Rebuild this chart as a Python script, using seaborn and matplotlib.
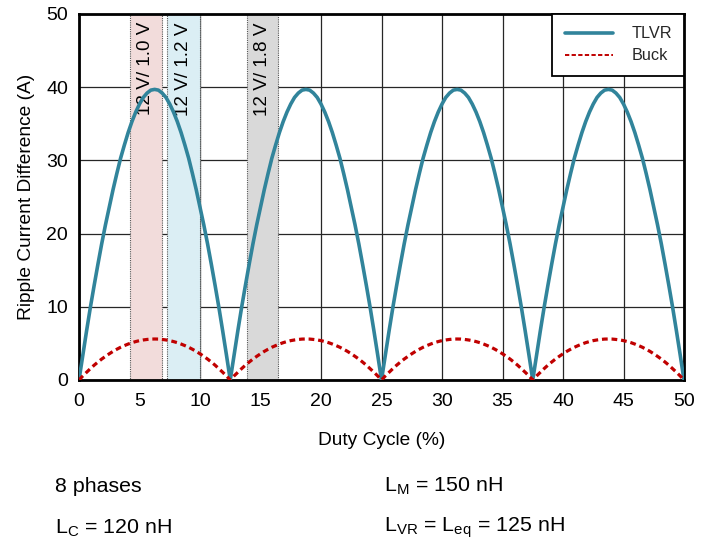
import numpy as np
import pandas as pd
import seaborn as sns
import matplotlib
matplotlib.use("Agg")
import matplotlib.pyplot as plt

# ---- data ----
duty = [i * 0.3125 for i in range(161)]  # duty cycle sample positions (%)
tlvr = [0, 3.4, 6.7, 9.9, 12.9, 15.8, 18.6, 21.2, 23.6, 26.0, 28.2, 30.3, 32.1, 33.8, 35.3, 36.6, 37.7, 38.6, 39.2, 39.6,
        39.7, 39.6, 39.2, 38.6, 37.7, 36.6, 35.3, 33.8, 32.1, 30.3, 28.2, 26.0, 23.6, 21.2, 18.6, 15.8, 12.9, 9.9, 6.7, 3.4,
        0, 3.4, 6.7, 9.9, 12.9, 15.8, 18.6, 21.2, 23.6, 26.0, 28.2, 30.3, 32.1, 33.8, 35.3, 36.6, 37.7, 38.6, 39.2, 39.6,
        39.7, 39.6, 39.2, 38.6, 37.7, 36.6, 35.3, 33.8, 32.1, 30.3, 28.2, 26.0, 23.6, 21.2, 18.6, 15.8, 12.9, 9.9, 6.7, 3.4,
        0, 3.4, 6.7, 9.9, 12.9, 15.8, 18.6, 21.2, 23.6, 26.0, 28.2, 30.3, 32.1, 33.8, 35.3, 36.6, 37.7, 38.6, 39.2, 39.6,
        39.7, 39.6, 39.2, 38.6, 37.7, 36.6, 35.3, 33.8, 32.1, 30.3, 28.2, 26.0, 23.6, 21.2, 18.6, 15.8, 12.9, 9.9, 6.7, 3.4,
        0, 3.4, 6.7, 9.9, 12.9, 15.8, 18.6, 21.2, 23.6, 26.0, 28.2, 30.3, 32.1, 33.8, 35.3, 36.6, 37.7, 38.6, 39.2, 39.6,
        39.7, 39.6, 39.2, 38.6, 37.7, 36.6, 35.3, 33.8, 32.1, 30.3, 28.2, 26.0, 23.6, 21.2, 18.6, 15.8, 12.9, 9.9, 6.7, 3.4,
        0]
buck = [0, 0.55, 1.06, 1.55, 2.02, 2.45, 2.86, 3.23, 3.58, 3.91, 4.20, 4.47, 4.70, 4.91, 5.10, 5.25, 5.38, 5.47, 5.54, 5.59,
        5.60, 5.59, 5.54, 5.47, 5.38, 5.25, 5.10, 4.91, 4.70, 4.47, 4.20, 3.91, 3.58, 3.23, 2.86, 2.45, 2.02, 1.55, 1.06, 0.55,
        0, 0.55, 1.06, 1.55, 2.02, 2.45, 2.86, 3.23, 3.58, 3.91, 4.20, 4.47, 4.70, 4.91, 5.10, 5.25, 5.38, 5.47, 5.54, 5.59,
        5.60, 5.59, 5.54, 5.47, 5.38, 5.25, 5.10, 4.91, 4.70, 4.47, 4.20, 3.91, 3.58, 3.23, 2.86, 2.45, 2.02, 1.55, 1.06, 0.55,
        0, 0.55, 1.06, 1.55, 2.02, 2.45, 2.86, 3.23, 3.58, 3.91, 4.20, 4.47, 4.70, 4.91, 5.10, 5.25, 5.38, 5.47, 5.54, 5.59,
        5.60, 5.59, 5.54, 5.47, 5.38, 5.25, 5.10, 4.91, 4.70, 4.47, 4.20, 3.91, 3.58, 3.23, 2.86, 2.45, 2.02, 1.55, 1.06, 0.55,
        0, 0.55, 1.06, 1.55, 2.02, 2.45, 2.86, 3.23, 3.58, 3.91, 4.20, 4.47, 4.70, 4.91, 5.10, 5.25, 5.38, 5.47, 5.54, 5.59,
        5.60, 5.59, 5.54, 5.47, 5.38, 5.25, 5.10, 4.91, 4.70, 4.47, 4.20, 3.91, 3.58, 3.23, 2.86, 2.45, 2.02, 1.55, 1.06, 0.55,
        0]
band_labels = ["12 V/ 1.0 V", "12 V/ 1.2 V", "12 V/ 1.8 V"]
band_start = [4.2, 7.3, 13.85]
band_end = [6.87, 10.0, 16.47]
band_colors = ["#f2dcdb", "#dbeef4", "#d9d9d9"]
x_ticks = [0, 5, 10, 15, 20, 25, 30, 35, 40, 45, 50]
y_ticks = [0, 10, 20, 30, 40, 50]
notes = [("8 phases", 55, 486), (r"L$_\mathregular{M}$ = 150 nH", 384, 486),
         (r"L$_\mathregular{C}$ = 120 nH", 55, 528),
         (r"L$_\mathregular{VR}$ = L$_\mathregular{eq}$ = 125 nH", 384, 528)]

sns.set_theme(style="white")
plt.rcParams["font.family"] = ["Liberation Sans", "DejaVu Sans"]
plt.rcParams["mathtext.fontset"] = "custom"
plt.rcParams["mathtext.rm"] = "Liberation Sans"

W, H = 709, 541
fig = plt.figure(figsize=(W / 100, H / 100), dpi=100)
ax = fig.add_axes([79 / W, 1 - 380 / H, (684 - 79) / W, (380 - 14) / H])

df = pd.DataFrame({"duty": duty * 2, "val": tlvr + buck,
                   "series": ["TLVR"] * len(tlvr) + ["Buck"] * len(buck)})

for s, e, c, lab in zip(band_start, band_end, band_colors, band_labels):
    ax.axvspan(s, e, facecolor=c, edgecolor="#555555", linestyle=(0, (1, 1)), linewidth=0.8, zorder=1)
    ax.text((s + e) / 2, 48.9, lab, rotation=90, ha="center", va="top", fontsize=13.6, color="black", zorder=2)

sns.lineplot(data=df[df.series == "TLVR"], x="duty", y="val", color="#31849b", linewidth=2.6,
             ax=ax, label="TLVR", zorder=3)
sns.lineplot(data=df[df.series == "Buck"], x="duty", y="val", color="#c00000", linewidth=2.3,
             ax=ax, label="Buck", zorder=4)
ax.lines[-1].set_dashes([1.8, 1.2])

ax.set_xlim(0, 50)
ax.set_ylim(0, 50)
ax.set_xticks(x_ticks)
ax.set_yticks(y_ticks)
ax.grid(True, color="#262626", linewidth=0.9, zorder=0)
ax.set_axisbelow(True)
ax.tick_params(axis="both", length=0, labelsize=14, colors="black")
ax.tick_params(axis="x", pad=9)
ax.tick_params(axis="y", pad=8)
for sp in ax.spines.values():
    sp.set_visible(True)
    sp.set_color("black")
    sp.set_linewidth(2.0)

ax.set_xlabel("Duty Cycle (%)", fontsize=13.8, labelpad=16, color="black")
ax.set_ylabel("Ripple Current Difference (A)", fontsize=13.8, labelpad=8, color="black")

leg = ax.legend(loc="upper right", borderaxespad=0, fancybox=False, framealpha=1,
                edgecolor="black", fontsize=11.7, handlelength=3.0, borderpad=0.75,
                labelspacing=0.45, handletextpad=1.1)
leg.get_frame().set_linewidth(1.3)
leg.set_zorder(10)
hl = leg.get_lines()
hl[1].set_linewidth(1.4)
hl[1].set_dashes([2.2, 1.2])

for t, px, py in notes:
    fig.text(px / W, 1 - py / H, t, fontsize=15.4, ha="left", va="center", color="black")

fig.savefig("out.png", dpi=100)
